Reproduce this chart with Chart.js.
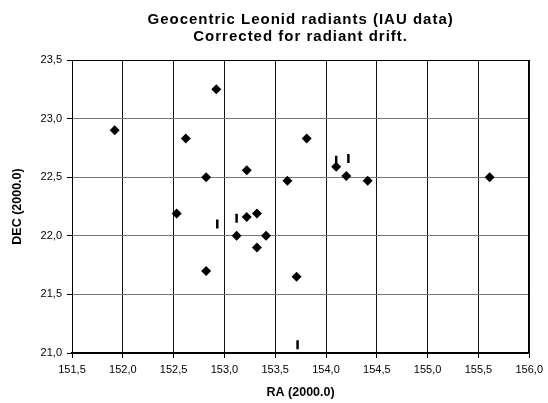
<!DOCTYPE html>
<html>
<head>
<meta charset="utf-8">
<script src="https://cdn.jsdelivr.net/npm/chart.js@4/dist/chart.umd.min.js"></script>
<style>
  html, body { margin: 0; padding: 0; background: #fff; }
  #wrap { width: 548px; height: 403px; position: relative; }
</style>
</head>
<body>
<div id="wrap"><canvas id="chart"></canvas></div>
<script>
// radiants, diamond markers
const raDiamond = [151.92, 152.62, 152.92, 153.81, 152.82, 153.22, 153.62, 152.53, 153.22, 153.32,
                   153.12, 153.41, 154.10, 154.20, 154.41, 155.61, 152.82, 153.32, 153.71];
const decDiamond = [22.90, 22.83, 23.25, 22.83, 22.50, 22.56, 22.47, 22.19, 22.16, 22.19,
                    22.00, 22.00, 22.59, 22.51, 22.47, 22.50, 21.70, 21.90, 21.65];
// small vertical dash markers
const raDash = [152.93, 153.12, 154.10, 154.22, 153.72];
const decDash = [22.10, 22.15, 22.645, 22.66, 21.07];

const xTicks = [151.5, 152.0, 152.5, 153.0, 153.5, 154.0, 154.5, 155.0, 155.5, 156.0];
const yTicks = [21.0, 21.5, 22.0, 22.5, 23.0, 23.5];

const comma = v => Number(v).toFixed(1).replace('.', ',');
const FONT = "'Liberation Sans', Arial, sans-serif";

Chart.defaults.font.family = FONT;
Chart.defaults.color = '#000';

// wider letter spacing for the title, black frame round the plot
const framePlugin = {
    id: 'frame',
    beforeDraw(chart) {
        const tb = chart.titleBlock;
        if (tb && !tb._spaced) {
            const orig = tb.draw;
            tb.draw = function () {
                const ctx = chart.ctx;
                ctx.save();
                ctx.letterSpacing = '1px';
                orig.apply(this, arguments);
                ctx.restore();
            };
            tb._spaced = true;
        }
    },
    afterDatasetsDraw(chart) {
        const { ctx, chartArea: a } = chart;
        ctx.save();
        ctx.strokeStyle = '#000';
        ctx.lineWidth = 1;
        ctx.strokeRect(Math.round(a.left) + 0.5, Math.round(a.top) + 0.5,
                       Math.round(a.right - a.left) - 1, Math.round(a.bottom - a.top));
        ctx.restore();
    }
};

new Chart(document.getElementById('chart'), {
    type: 'scatter',
    data: {
        datasets: [{
            data: raDiamond.map((x, i) => ({ x: x, y: decDiamond[i] })),
            pointStyle: 'rectRot',
            pointRadius: 5,
            backgroundColor: '#000',
            borderColor: '#000',
            borderWidth: 0
        }, {
            data: raDash.map((x, i) => ({ x: x, y: decDash[i] })),
            pointStyle: 'line',
            rotation: 90,
            pointRadius: 4.5,
            borderColor: '#000',
            borderWidth: 2.5
        }]
    },
    plugins: [framePlugin],
    options: {
        responsive: true,
        maintainAspectRatio: false,
        devicePixelRatio: 1,
        animation: false,
        layout: { padding: { left: 0, right: 16, top: 0, bottom: 0 } },
        plugins: {
            legend: { display: false },
            tooltip: { enabled: false },
            title: {
                display: true,
                fullSize: false,
                text: ['Geocentric Leonid radiants (IAU data)', 'Corrected for radiant drift.'],
                color: '#000',
                font: { size: 15, weight: 'bold', lineHeight: '17px' },
                padding: { top: 11, bottom: 15 }
            }
        },
        scales: {
            x: {
                type: 'linear',
                min: xTicks[0],
                max: xTicks[xTicks.length - 1],
                afterBuildTicks: s => { s.ticks = xTicks.map(v => ({ value: v })); },
                afterFit: s => { s.height = 50; },
                ticks: { callback: comma, font: { size: 11 }, padding: 5, maxRotation: 0 },
                grid: {
                    color: '#111',
                    tickColor: '#000',
                    tickLength: 5
                },
                border: { color: '#000', width: 1.5 },
                title: {
                    display: true,
                    text: 'RA (2000.0)',
                    font: { size: 12.5, weight: 'bold' },
                    padding: { top: 0, bottom: 3 }
                }
            },
            y: {
                type: 'linear',
                min: yTicks[0],
                max: yTicks[yTicks.length - 1],
                afterBuildTicks: s => { s.ticks = yTicks.map(v => ({ value: v })); },
                afterFit: s => { s.width = 72; },
                ticks: { callback: comma, font: { size: 11 }, padding: 5 },
                grid: {
                    color: c => (c.tick && c.tick.value === 23.5) ? '#000' : '#777',
                    tickColor: '#000',
                    tickLength: 5
                },
                border: { color: '#000', width: 1 },
                title: {
                    display: true,
                    text: 'DEC (2000.0)',
                    font: { size: 12.5, weight: 'bold' },
                    padding: { top: 10.5, bottom: 0 }
                }
            }
        }
    }
});
</script>
</body>
</html>
